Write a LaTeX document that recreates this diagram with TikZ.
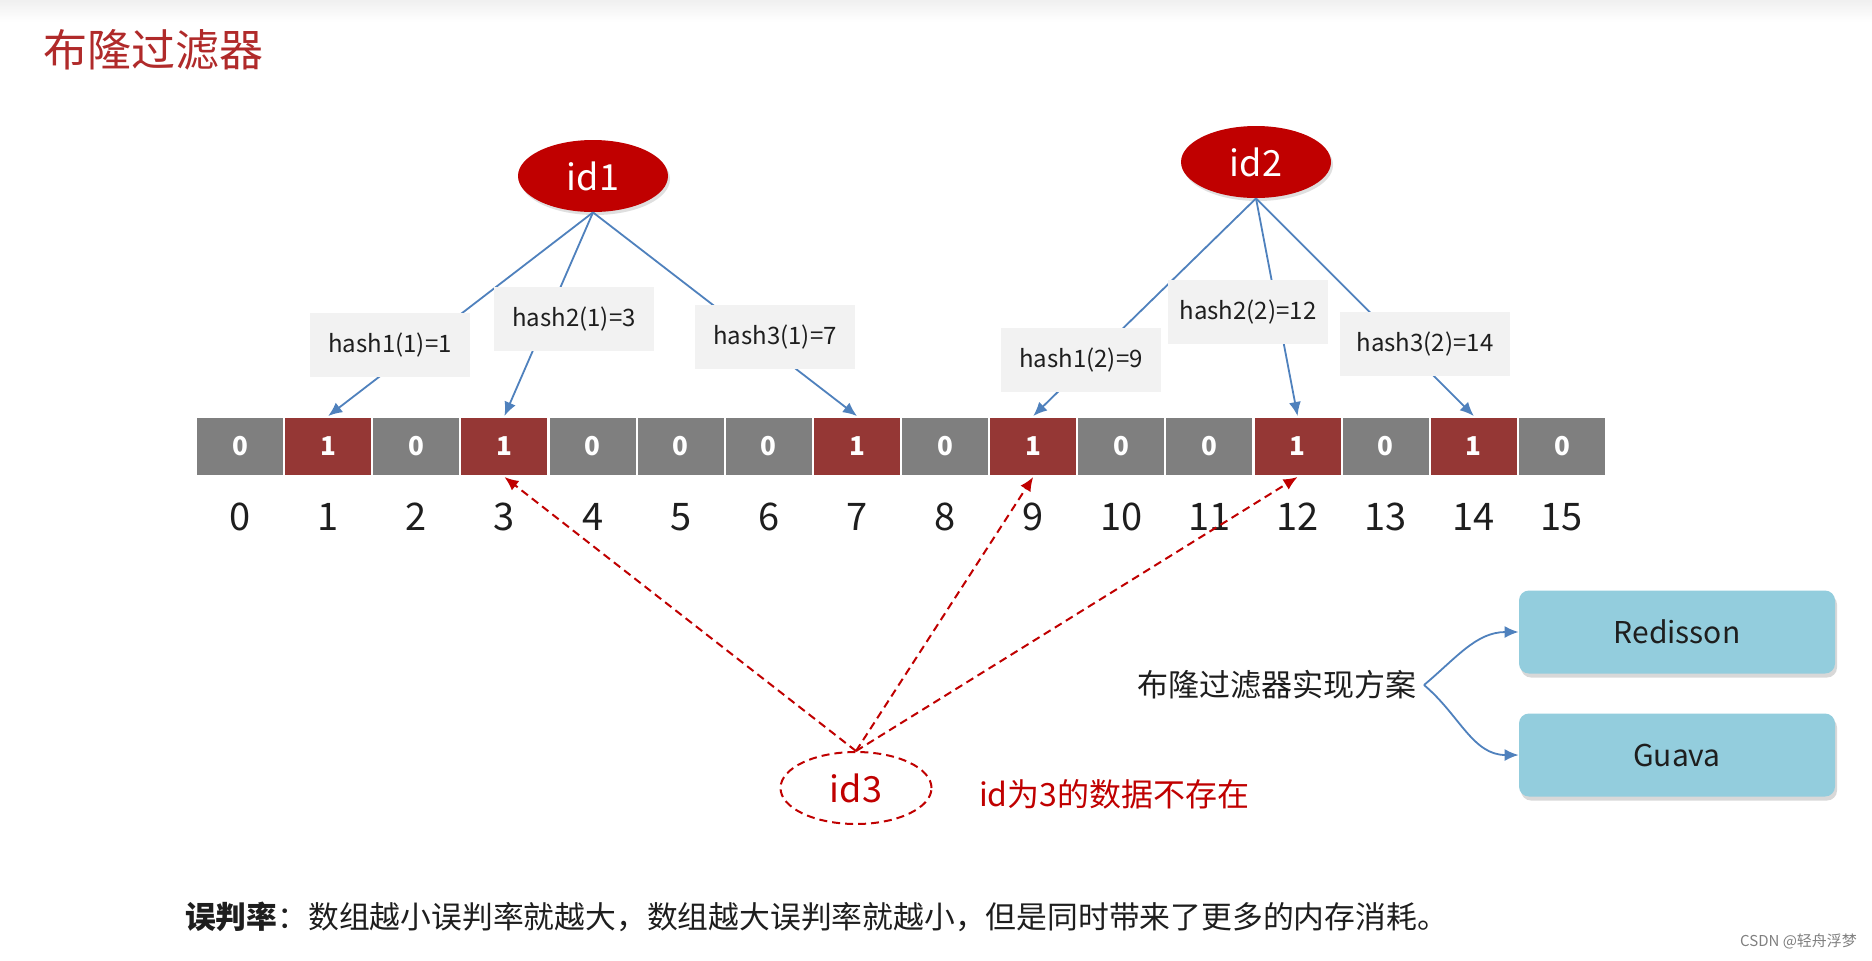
\documentclass[tikz,border=0pt]{standalone}
\usepackage{fontspec}
\setmainfont{Noto Sans CJK SC}
\usetikzlibrary{shapes.geometric,arrows.meta,shadows}
\definecolor{titlered}{RGB}{176,42,42}
\definecolor{idred}{RGB}{192,0,0}
\definecolor{cellgray}{RGB}{127,127,127}
\definecolor{cellred}{RGB}{149,55,53}
\definecolor{hashgray}{RGB}{242,242,242}
\definecolor{lineblue}{RGB}{79,129,189}
\definecolor{libblue}{RGB}{147,205,221}
\definecolor{darktext}{RGB}{30,30,30}

\begin{document}
\begin{tikzpicture}[x=0.5pt,y=-0.5pt,
	cell/.style={draw=white, line width=1pt, minimum width=44pt, minimum height=29.5pt, inner sep=0pt, text=white, font=\fontsize{13}{15}\selectfont\bfseries},
	cell0/.style={fill=cellgray},
	cell1/.style={fill=cellred},
	idx/.style={text=darktext, font=\fontsize{19}{22}\selectfont},
	idnode/.style={ellipse, fill=idred, text=white, minimum width=75pt, minimum height=36pt, inner sep=0pt, font=\fontsize{18}{20}\selectfont, drop shadow={shadow xshift=1pt, shadow yshift=-1.5pt, opacity=0.25}},
	hashbox/.style={fill=hashgray, minimum width=80pt, minimum height=32pt, text=darktext, font=\fontsize{12}{14}\selectfont},
	hashline/.style={lineblue, line width=0.9pt, -{Latex[length=7pt,width=6pt]}},
	missline/.style={idred, line width=1pt, dash pattern=on 4pt off 2.5pt, -{Latex[length=7pt,width=6pt]}},
	libbox/.style={rounded corners=5pt, fill=libblue, minimum width=158pt, minimum height=41.5pt, text=darktext, font=\fontsize{15}{18}\selectfont, drop shadow={shadow xshift=1pt, shadow yshift=-2pt, opacity=0.3}},
]
	\useasboundingbox (0,0) rectangle (1872,960);
	\fill[white] (0,0) rectangle (1872,960);
	\shade[top color=gray!12, bottom color=white] (0,0) rectangle (1872,22);
	
	\node[anchor=west, text=titlered, font=\fontsize{22}{26}\selectfont] (title) at (36,50) {布隆过滤器};
	
	% bit array
	\foreach \b [count=\i from 0] in {0,1,0,1,0,0,0,1,0,1,0,0,1,0,1,0} {
		\node[cell, cell\b] (c\i) at ({196+88.125*(\i+0.5)},446.5) {\b};
		\node[idx] (n\i) at ({196+88.125*(\i+0.5)},517) {\i};
	}
	
	\node[idnode] (id1) at (593,176) {id1};
	\node[idnode] (id2) at (1256,162) {id2};
	
	\draw[hashline] (id1.south) to (c1.north);
	\draw[hashline] (id1.south) to (c3.north);
	\draw[hashline] (id1.south) to (c7.north);
	\draw[hashline] (id2.south) to (c9.north);
	\draw[hashline] (id2.south) to (c12.north);
	\draw[hashline] (id2.south) to (c14.north);
	
	\node[hashbox] (h11) at (390,345) {hash1(1)=1};
	\node[hashbox] (h21) at (574,319) {hash2(1)=3};
	\node[hashbox] (h31) at (775,337) {hash3(1)=7};
	\node[hashbox] (h12) at (1081,360) {hash1(2)=9};
	\node[hashbox] (h22) at (1248,312) {hash2(2)=12};
	\node[hashbox, minimum width=85pt] (h32) at (1425,344) {hash3(2)=14};
	
	% not in the set
	\node[ellipse, draw=idred, line width=1pt, dash pattern=on 4pt off 2.5pt, text=idred, minimum width=75.5pt, minimum height=36pt, inner sep=0pt, font=\fontsize{18}{20}\selectfont] (id3) at (856,788) {id3};
	\draw[missline] (id3.north) to (c3.south);
	\draw[missline] (id3.north) to (c9.south);
	\draw[missline] (id3.north) to (c12.south);
	\node[anchor=west, text=idred, font=\fontsize{16}{18}\selectfont] (note) at (972,794) {id为3的数据不存在};
	
	% implementations
	\node[anchor=east, text=darktext, font=\fontsize{15.5}{18}\selectfont] (plan) at (1424,685) {布隆过滤器实现方案};
	\node[libbox] (redisson) at (1677,632) {Redisson};
	\node[libbox] (guava) at (1677,755) {Guava};
	\draw[hashline] (plan.east) to[out=40, in=180] (redisson.west);
	\draw[hashline] (plan.east) to[out=-40, in=180] (guava.west);
	
	\node[anchor=west, text=darktext, font=\fontsize{15.4}{19}\selectfont] (rate) at (178,917) {\textbf{误判率}：数组越小误判率就越大，数组越大误判率就越小，但是同时带来了更多的内存消耗。};
	\node[anchor=east, text=gray, font=\fontsize{7.5}{9}\selectfont] (mark) at (1864,941) {CSDN @轻舟浮梦};
\end{tikzpicture}
\end{document}
